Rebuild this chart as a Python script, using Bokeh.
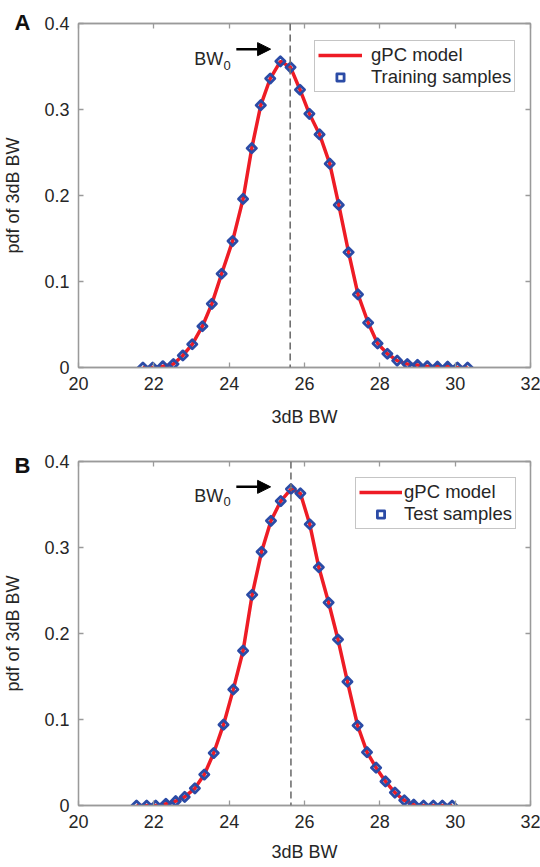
import math
from bokeh.plotting import figure
from bokeh.layouts import column
from bokeh.models import (Span, Arrow, NormalHead, Label, Legend, LegendItem,
                          LinearAxis, FixedTicker, CustomJSTickFormatter, Range1d)
from bokeh.embed import file_html
from bokeh.resources import INLINE

# ---------------- data ----------------
x_ticks = [20, 22, 24, 26, 28, 30, 32]
y_ticks = [0, 0.1, 0.2, 0.3, 0.4]
y_tick_labels = {0: "0", 0.1: "0.1", 0.2: "0.2", 0.3: "0.3", 0.4: "0.4"}

bw_train = [21.71, 21.97, 22.24, 22.52, 22.77, 23.02, 23.29, 23.54, 23.80, 24.09,
            24.37, 24.60, 24.84, 25.09, 25.36, 25.63, 25.88, 26.13, 26.40, 26.67,
            26.91, 27.17, 27.42, 27.69, 27.94, 28.20, 28.46, 28.73, 29.00, 29.26,
            29.53, 29.80, 30.06, 30.33]
pdf_train = [0.0, 0.0, 0.0015, 0.004, 0.014, 0.027, 0.048, 0.074, 0.109, 0.147,
             0.196, 0.255, 0.305, 0.336, 0.356, 0.349, 0.323, 0.295, 0.271, 0.237,
             0.189, 0.134, 0.085, 0.052, 0.028, 0.016, 0.008, 0.004, 0.003, 0.0015,
             0.001, 0.001, 0.0, 0.0]

bw_test = [21.54, 21.81, 22.05, 22.32, 22.58, 22.82, 23.09, 23.34, 23.59, 23.85,
           24.11, 24.37, 24.61, 24.86, 25.11, 25.37, 25.64, 25.89, 26.14, 26.38,
           26.64, 26.89, 27.14, 27.41, 27.66, 27.90, 28.15, 28.40, 28.65, 28.90,
           29.16, 29.42, 29.66, 29.92]
pdf_test = [0.0, 0.0, 0.0, 0.002, 0.005, 0.010, 0.020, 0.036, 0.061, 0.094,
            0.135, 0.180, 0.245, 0.295, 0.331, 0.354, 0.368, 0.363, 0.327, 0.277,
            0.236, 0.193, 0.144, 0.093, 0.062, 0.044, 0.028, 0.015, 0.006, 0.001,
            0.0, 0.0, 0.0, 0.0]

bw0_train = 25.62
bw0_test = 25.64

FONT = "Liberation Sans"
TXT = "#262626"
AX = "#9a9a9a"
RED = "#ee1c25"
BLUE = "#2b4ba6"


def make_panel(xs, ys, sample_label, bw0, letter, letter_standoff, arrow_y, bw_y,
               sub_y, legend_loc, glyph_w, standoff, border_top, border_bottom,
               xl_standoff):
    p = figure(frame_width=452, frame_height=344,
               x_range=Range1d(20, 32), y_range=Range1d(0, 0.4),
               output_backend="svg", toolbar_location=None,
               min_border_left=77, min_border_right=11,
               min_border_top=border_top, min_border_bottom=border_bottom)
    p.grid.visible = False
    p.outline_line_color = AX
    p.outline_line_width = 1.3
    p.background_fill_color = "white"
    p.border_fill_color = "white"

    # panel letter as the figure title, pulled to the left of the frame
    p.title.text = letter
    p.title.align = "left"
    p.title.offset = -64
    p.title.standoff = letter_standoff
    p.title.text_font = FONT
    p.title.text_font_size = "22px"
    p.title.text_font_style = "bold"
    p.title.text_color = "#111111"

    # main axes
    xa = p.xaxis[0]
    xa.ticker = FixedTicker(ticks=x_ticks)
    xa.axis_label = "3dB BW"
    ya = p.yaxis[0]
    ya.ticker = FixedTicker(ticks=y_ticks)
    ya.major_label_overrides = y_tick_labels
    ya.axis_label = "pdf of 3dB BW"
    for ax in (xa, ya):
        ax.major_tick_in = 5
        ax.major_tick_out = 0
        ax.minor_tick_line_color = None
        ax.axis_line_color = AX
        ax.axis_line_width = 1.3
        ax.major_tick_line_color = AX
        ax.major_tick_line_width = 1.3
        ax.major_label_text_font = FONT
        ax.major_label_text_font_size = "18px"
        ax.major_label_text_color = TXT
        ax.major_label_standoff = 9
        ax.axis_label_text_font = FONT
        ax.axis_label_text_font_size = "18px"
        ax.axis_label_text_font_style = "normal"
        ax.axis_label_text_color = TXT
    xa.axis_label_standoff = xl_standoff
    ya.axis_label_standoff = 18

    # box ticks on top and right
    empty = CustomJSTickFormatter(code="return '';")
    top = LinearAxis(ticker=FixedTicker(ticks=x_ticks), formatter=empty)
    right = LinearAxis(ticker=FixedTicker(ticks=y_ticks), formatter=empty)
    for ax in (top, right):
        ax.major_tick_in = 5
        ax.major_tick_out = 0
        ax.minor_tick_line_color = None
        ax.axis_line_color = AX
        ax.axis_line_width = 1.3
        ax.major_tick_line_color = AX
        ax.major_tick_line_width = 1.3
        ax.major_label_standoff = 0
        ax.axis_label_standoff = 0
    p.add_layout(top, "above")
    p.add_layout(right, "right")

    # dashed BW0 line
    p.add_layout(Span(location=bw0, dimension="height", line_color="#707070",
                      line_width=1.6, line_dash="7 4"))

    line_r = p.line(xs, ys, line_color=RED, line_width=3.5)
    sc_r = p.scatter(xs, ys, marker="square", angle=math.pi / 4, size=6.5,
                     line_color=BLUE, line_width=2.8, fill_color=None,
                     line_join="round")

    legend = Legend(items=[LegendItem(label="gPC model", renderers=[line_r]),
                           LegendItem(label=sample_label, renderers=[sc_r])],
                    location=legend_loc, margin=0, padding=3, spacing=0,
                    glyph_width=glyph_w, glyph_height=18, label_height=18,
                    label_standoff=standoff,
                    label_text_font=FONT, label_text_font_size="18.5px",
                    label_text_color=TXT, border_line_color="#8c8c8c",
                    border_line_width=1.2, background_fill_alpha=1.0)
    p.add_layout(legend)

    # BW0 arrow annotation
    p.add_layout(Arrow(end=NormalHead(size=13, fill_color="black", line_color="black"),
                       x_start=24.19, y_start=arrow_y, x_end=25.10, y_end=arrow_y,
                       line_color="black", line_width=2.5))
    p.add_layout(Label(x=23.07, y=bw_y, text="BW", text_font=FONT,
                       text_font_size="18px", text_color=TXT,
                       text_baseline="alphabetic", text_align="left"))
    p.add_layout(Label(x=23.85, y=sub_y, text="0", text_font=FONT,
                       text_font_size="13px", text_color=TXT,
                       text_baseline="alphabetic", text_align="left"))
    return p


pA = make_panel(bw_train, pdf_train, "Training samples", bw0_train, "A", -22,
                0.3702, 0.3582, 0.3516, (236, 275), 44, 9, 23, 65, 14)
pB = make_panel(bw_test, pdf_test, "Test samples", bw0_test, "B", -33,
                0.3705, 0.3597, 0.3539, (277, 276), 43, 2, 29, 62, 11)

layout = column(pA, pB, spacing=0)
open("out.html", "w").write(file_html(layout, INLINE))
